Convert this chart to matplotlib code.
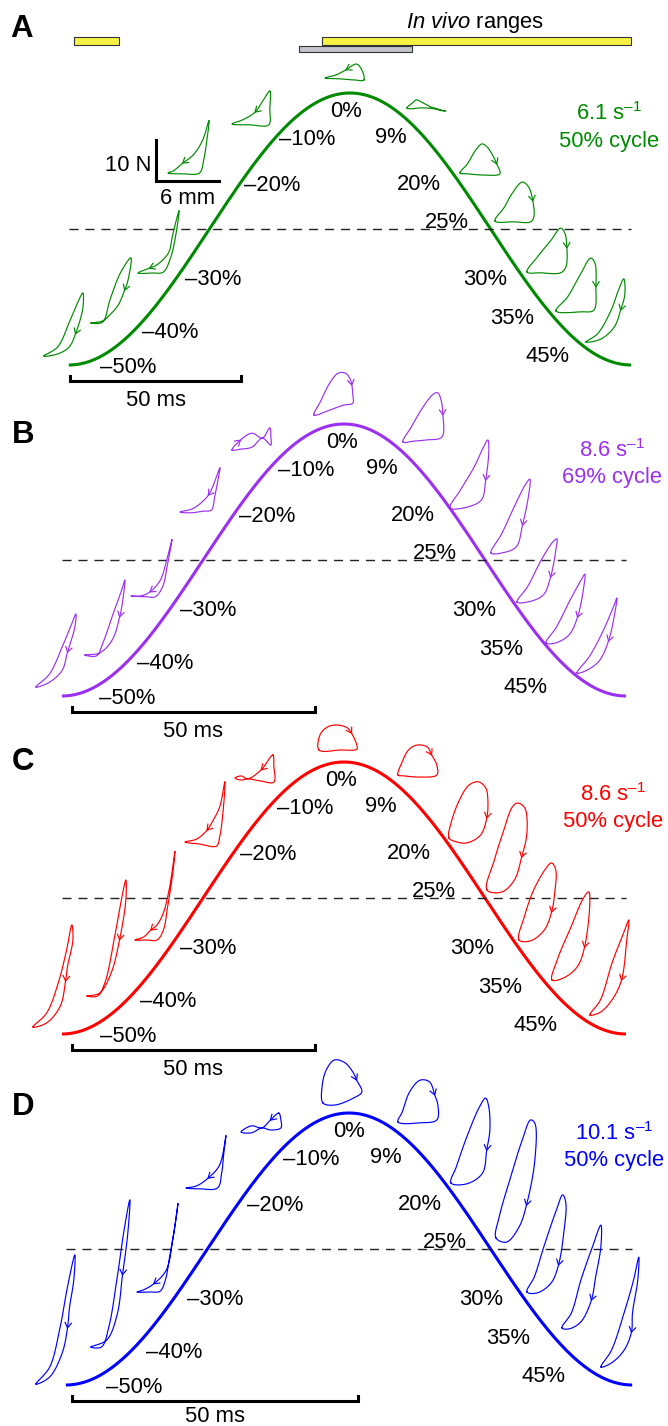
import numpy as np
import matplotlib
matplotlib.use("Agg")
import matplotlib.pyplot as plt
import matplotlib.transforms as mtransforms
from matplotlib.patches import Rectangle

plt.rcParams['font.family'] = ['Liberation Sans', 'DejaVu Sans']
plt.rcParams['mathtext.fontset'] = 'custom'
plt.rcParams['mathtext.rm'] = 'Liberation Sans'
plt.rcParams['mathtext.it'] = 'Liberation Sans:italic'

# ---------------- data ----------------
panel_letters = ['A', 'B', 'C', 'D']
freq_hz = [6.1, 8.6, 8.6, 10.1]
duty_pct = [50, 69, 50, 50]
panel_colors = ['#008a00', '#9b30f0', '#ff0000', '#0000ff']
phase_pct = [-50, -40, -30, -20, -10, 0, 9, 20, 25, 30, 35, 45]

# in vivo phase ranges, fraction of cycle (0 = peak length)
in_vivo_yellow = [(-0.49, -0.41), (-0.05, 0.50)]
in_vivo_gray = [(-0.09, 0.11)]

# work loops, (length mm, force N) relative to the loop start, and arrow vertex
loops_A = [
    ([(0, 0), (1.3, 2.2), (2.5, 8.8), (3.4, 14.1), (3.7, 15.4), (3.7, 11.7), (3.0, 5.4), (2.4, 2.2), (1.3, 0.5)], 6),
    ([(0, 0), (1.1, 0.2), (1.8, 5.6), (2.8, 12.2), (3.8, 15.9), (3.5, 10.2), (3.2, 8.0), (2.6, 4.4), (1.8, 2.0), (1.1, 0.5)], 6),
    ([(3.9, 15.1), (3.3, 9.3), (2.9, 4.9), (1.8, 2.0), (1.1, 1.2), (0, 0), (1.4, 0), (2.4, 0.2), (3.1, 3.7), (3.6, 9.3)], 4),
    ([(3.9, 12.7), (3.3, 8.0), (2.4, 4.4), (1.4, 2.4), (0.5, 0.5), (0, 0), (1.4, -0.2), (3.0, 0), (3.4, 3.2), (3.7, 8.0)], 3),
    ([(3.6, 8.0), (3.0, 5.9), (2.2, 2.9), (1.0, 1.0), (0, 0), (1.7, -0.2), (3.5, -0.2), (3.6, 3.7)], 2),
    ([(3.7, -0.5), (3.5, 2.0), (3.0, 3.4), (2.0, 2.0), (1.0, 0.7), (0, 0), (1.4, -0.2), (2.9, -0.5)], 3),
    ([(0, 0), (0.5, 1.2), (0.9, 2.0), (1.2, 1.7), (1.7, 1.0), (2.3, 0.2), (2.9, -0.2), (3.4, -0.7), (3.7, -0.7),
      (3.1, -0.5), (2.6, -0.2), (1.9, 0), (1.1, 0), (0.5, -0.2)], None),
    ([(0, 0), (0.7, 2.2), (1.5, 5.6), (2.1, 7.1), (2.6, 6.3), (3.2, 3.9), (3.5, 2.2), (3.8, -0.2), (2.3, -0.5), (0.7, -0.2)], 6),
    ([(0, 0), (0.9, 3.4), (1.6, 6.6), (2.6, 9.5), (3.2, 8.3), (3.6, 4.9), (3.7, 1.0), (3.4, -0.2), (1.8, -0.2)], 5),
    ([(0, 0), (1.0, 3.7), (2.3, 7.8), (3.2, 10.7), (3.6, 9.5), (3.8, 5.9), (3.7, 1.2), (3.2, -0.2), (1.3, -0.2)], 5),
    ([(0, 0), (1.1, 3.4), (2.4, 9.3), (3.3, 12.9), (3.7, 11.7), (3.8, 5.9), (3.6, 0.2), (2.4, -0.2)], 5),
    ([(0, 0), (1.1, 2.0), (2.4, 7.8), (3.1, 12.7), (3.6, 15.4), (3.7, 11.7), (3.3, 7.8), (2.7, 3.7), (1.4, 0.7)], 6),
]
loops_B = [
    ([(0, 0), (1.3, 3.2), (2.5, 9.8), (3.4, 15.4), (3.8, 17.8), (3.7, 14.6), (3.0, 8.5), (2.5, 4.1), (1.3, 1.2)], 6),
    ([(0, 0), (1.1, -0.2), (1.7, 2.9), (2.7, 10.2), (3.5, 15.9), (3.8, 18.3), (3.6, 13.4), (3.3, 9.3), (2.6, 3.7), (1.4, 0.5)], 7),
    ([(3.9, 13.7), (3.4, 8.8), (2.8, 3.9), (1.8, 1.0), (0.9, 0), (0, 0), (1.5, -0.2), (2.3, -0.2), (3.0, 2.2), (3.5, 8.0)], 3),
    ([(3.8, 10.7), (3.1, 6.1), (2.7, 4.1), (1.9, 2.0), (1.1, 0.7), (0, 0), (1.0, -0.2), (2.2, 0.2), (3.0, 0.5), (3.3, 3.7), (3.6, 7.6)], 2),
    ([(0, 0), (0.8, 2.4), (1.9, 4.1), (2.9, 2.9), (3.6, 5.4), (3.7, 3.2), (3.7, 1.2), (2.9, 2.9), (1.9, 0.7), (0.8, 0.2)], 1),
    ([(0, 0), (0.6, 3.2), (1.5, 7.8), (2.3, 10.2), (3.0, 10.2), (3.4, 9.0), (3.6, 7.3), (3.7, 4.9), (3.7, 2.9), (2.8, 2.4), (1.5, 1.2)], 6),
    ([(0, 0), (0.8, 3.7), (1.9, 8.5), (2.9, 11.7), (3.3, 12.0), (3.6, 10.5), (3.8, 6.6), (3.7, 1.2), (2.2, 0.5), (1.0, 0.2)], 6),
    ([(0, 0), (1.0, 4.4), (2.3, 10.0), (3.2, 14.9), (3.6, 16.6), (3.7, 14.1), (3.4, 6.8), (3.0, 2.0), (1.6, 0.2)], 6),
    ([(0, 0), (1.0, 4.6), (2.2, 11.2), (3.3, 16.8), (3.7, 18.0), (3.6, 14.4), (3.0, 6.8), (2.4, 1.5), (1.0, 0)], 6),
    ([(0, 0), (1.0, 3.7), (2.3, 10.2), (3.4, 14.6), (3.8, 15.4), (3.7, 12.7), (3.2, 6.1), (2.5, 1.7), (1.0, 0)], 6),
    ([(0, 0), (1.0, 3.9), (2.3, 10.5), (3.4, 15.6), (3.7, 16.8), (3.6, 13.7), (3.0, 6.3), (2.2, 2.0), (0.9, 0)], 6),
    ([(0, 0), (1.2, 4.1), (2.4, 9.8), (3.5, 16.3), (3.8, 18.3), (3.6, 14.6), (3.0, 7.8), (2.1, 2.9), (0.8, 0.5)], 6),
]
loops_C = [
    ([(0, 0), (1.3, 3.4), (2.4, 10.7), (3.2, 18.8), (3.7, 24.9), (3.8, 21.2), (3.3, 14.9), (3.1, 11.2), (2.6, 5.1), (1.3, 1.0)], 7),
    ([(0, 0), (1.0, 0), (1.7, 3.2), (2.7, 15.4), (3.4, 25.1), (3.7, 28.3), (3.7, 23.4), (3.1, 13.7), (2.3, 5.6), (1.2, 0.7)], 7),
    ([(3.8, 21.5), (3.3, 12.9), (2.7, 6.6), (2.1, 3.7), (1.5, 2.4), (0.8, 0.7), (0, 0), (1.1, 0), (2.1, 0), (2.7, 2.4), (3.1, 8.0), (3.6, 16.3)], 4),
    ([(3.8, 14.6), (3.3, 8.5), (2.7, 5.4), (2.1, 2.9), (1.1, 0.7), (0, 0), (1.4, -0.5), (3.0, -1.0), (3.3, 1.2), (3.6, 6.8)], 3),
    ([(3.6, 5.6), (2.5, 2.0), (1.2, -0.2), (0.6, 0.5), (0, 0), (0.6, -0.5), (1.2, -0.2), (2.4, -0.7), (3.7, -1.0), (3.7, 2.9)], 1),
    ([(0, 0), (0.1, 3.7), (0.8, 5.6), (1.7, 6.1), (2.7, 5.4), (3.1, 4.1), (3.6, 1.2), (3.6, 0.2), (2.0, 0)], 5),
    ([(0, 0), (0.4, 3.2), (1.0, 6.1), (1.8, 7.3), (2.8, 6.8), (3.2, 4.9), (3.7, 2.4), (3.7, 0), (2.1, -0.5), (0.5, -0.2)], 5),
    ([(0, 0), (0.2, 3.7), (1.0, 9.3), (1.9, 12.9), (2.8, 13.7), (3.5, 12.2), (3.7, 9.3), (3.6, 4.9), (3.0, 0.7), (1.7, -1.2), (0.8, -1.0)], 7),
    ([(0, 0), (0.7, 7.3), (1.6, 14.6), (2.4, 20.2), (2.9, 21.2), (3.6, 20.0), (3.8, 13.9), (3.3, 8.0), (2.6, 2.4), (1.4, -0.5)], 7),
    ([(0, 0), (0.5, 5.6), (1.4, 12.2), (2.6, 17.6), (3.1, 18.8), (3.5, 17.1), (3.4, 11.5), (3.1, 6.8), (2.4, 2.4), (1.1, -0.2)], 7),
    ([(0, 0), (0.5, 4.9), (1.8, 12.9), (3.0, 20.0), (3.5, 21.5), (3.6, 18.8), (3.1, 8.0), (2.4, 3.2), (1.1, 0.5)], 6),
    ([(0, 0), (1.0, 3.7), (2.1, 12.7), (3.2, 20.0), (3.7, 23.2), (3.5, 18.3), (3.0, 8.5), (2.1, 3.7), (1.0, 0.7)], 6),
]
loops_D = [
    ([(0, 0), (1.3, 4.1), (2.3, 13.9), (3.0, 23.7), (3.7, 31.5), (3.6, 25.4), (3.2, 18.8), (3.0, 13.7), (2.5, 7.6), (1.3, 1.7)], 7),
    ([(0, 0), (1.0, 0), (1.7, 4.9), (2.5, 17.1), (3.2, 29.3), (3.7, 35.9), (3.5, 27.6), (3.0, 17.6), (2.5, 8.0), (1.5, 1.7)], 7),
    ([(3.9, 21.5), (3.4, 12.7), (2.8, 5.4), (1.6, 2.0), (0.6, 0.5), (0, 0), (1.2, 0), (2.2, 0.2), (2.7, 2.9), (3.1, 8.5), (3.6, 15.9)], 3),
    ([(3.8, 12.7), (3.2, 5.6), (2.1, 2.4), (1.0, 0.5), (0, 0), (1.3, -0.2), (3.0, 0), (3.4, 3.7), (3.6, 8.5)], 2),
    ([(3.6, 4.6), (2.8, 2.9), (2.0, 1.0), (1.0, 1.5), (0, 0), (1.0, -0.2), (2.0, 1.0), (2.8, 0.5), (3.8, 1.0), (3.8, 2.9)], 1),
    ([(0, 0), (-0.1, 3.7), (0.3, 8.0), (1.1, 10.5), (2.1, 9.8), (2.9, 7.3), (3.2, 5.6), (3.7, 2.7), (2.9, 1.2), (1.1, -0.5)], 6),
    ([(0, 0), (0.4, 2.4), (1.1, 7.3), (2.1, 10.2), (3.0, 9.8), (3.5, 6.6), (3.8, 4.1), (3.7, 0.5), (2.1, -0.2)], 5),
    ([(0, 0), (0.5, 3.9), (1.5, 11.2), (2.7, 18.5), (3.3, 20.7), (3.6, 18.5), (3.7, 12.9), (3.4, 8.0), (3.0, 2.4), (1.5, -0.2)], 7),
    ([(0, 0), (0.3, 5.1), (1.4, 14.9), (2.5, 23.9), (3.3, 28.8), (3.7, 28.0), (3.7, 19.0), (2.9, 8.0), (2.2, 2.7), (1.0, -1.0)], 7),
    ([(0, 0), (0.7, 3.7), (1.6, 11.0), (2.8, 20.0), (3.4, 23.7), (3.7, 21.7), (3.5, 14.4), (3.0, 6.6), (2.3, 2.2), (1.0, -0.2)], 7),
    ([(0, 0), (0.9, 3.7), (1.8, 11.7), (2.9, 19.8), (3.7, 25.1), (3.7, 19.8), (3.2, 12.4), (2.8, 6.8), (1.8, 1.5), (0.7, -0.2)], 7),
    ([(0, 0), (1.0, 4.1), (2.2, 13.2), (3.1, 21.2), (3.6, 26.8), (3.5, 21.2), (3.0, 13.2), (2.9, 8.5), (2.2, 4.1), (1.0, 1.0)], 7),
]
all_loops = [loops_A, loops_B, loops_C, loops_D]

# ---------------- layout (pixels, origin top-left) ----------------
W, H, DPI = 668, 1426, 100
PX_PER_MM, PX_PER_N = 10.5, 4.1
AMP_PX = 136
peak_x = [350, 344, 344, 349]
mid_y = [229, 560, 898, 1249]
px_per_ms = [3.43, 4.85, 4.85, 5.72]
bar_lead_ms = [0.3, 2.1, 2.1, 1.0]
bar_label_gap = [25, 25, 25, 21]

loop_anchor = [
    [(44, 356), (91, 323), (138, 273), (168, 173), (232, 124), (325, 78), (407, 108),
     (460, 173), (495, 221), (527, 272), (556, 311), (586, 342)],
    [(36, 687), (85, 655), (131, 596), (180, 512), (232, 450), (314, 415), (403, 442),
     (450, 508), (491, 553), (517, 602), (546, 643), (577, 673)],
    [(33, 1027), (87, 996), (135, 940), (185, 842), (235, 778), (319, 750), (398, 775),
     (449, 838), (487, 890), (519, 940), (552, 980), (590, 1015)],
    [(36, 1384), (91, 1347), (137, 1292), (186, 1188), (241, 1132), (323, 1103), (398, 1122),
     (451, 1183), (496, 1238), (527, 1292), (562, 1328), (601, 1367)],
]
label_x = [
    [128, 170, 213, 272, 307, 346, 391, 419, 447, 485, 512, 548],
    [127, 165, 208, 267, 306, 342, 382, 413, 435, 474, 501, 525],
    [128, 168, 208, 268, 305, 341, 381, 409, 434, 472, 500, 535],
    [134, 174, 215, 275, 311, 349, 386, 420, 445, 481, 508, 544],
]
label_dy = [136, 101, 48, -46, -92, -120, -94, -47, -9, 48, 87, 125]
letter_pos = [(10, 37), (12, 443), (12, 770), (12, 1115)]
freq_pos = [(609, 120, 147), (612, 457, 483), (613, 801, 827), (614, 1140, 1166)]

FS = 15.8


def smooth_closed(P, n=10):
    # centripetal Catmull-Rom through the loop vertices
    P = np.asarray(P, float)
    Q = np.vstack([P[-1:], P, P[:2]])
    segs = []
    for i in range(len(P)):
        p0, p1, p2, p3 = Q[i], Q[i + 1], Q[i + 2], Q[i + 3]
        t0 = 0.0
        t1 = t0 + np.hypot(*(p1 - p0)) ** 0.5 + 1e-6
        t2 = t1 + np.hypot(*(p2 - p1)) ** 0.5 + 1e-6
        t3 = t2 + np.hypot(*(p3 - p2)) ** 0.5 + 1e-6
        t = np.linspace(t1, t2, n, endpoint=False)[:, None]
        a1 = (t1 - t) / (t1 - t0) * p0 + (t - t0) / (t1 - t0) * p1
        a2 = (t2 - t) / (t2 - t1) * p1 + (t - t1) / (t2 - t1) * p2
        a3 = (t3 - t) / (t3 - t2) * p2 + (t - t2) / (t3 - t2) * p3
        b1 = (t2 - t) / (t2 - t0) * a1 + (t - t0) / (t2 - t0) * a2
        b2 = (t3 - t) / (t3 - t1) * a2 + (t - t1) / (t3 - t1) * a3
        segs.append((t2 - t) / (t2 - t1) * b1 + (t - t1) / (t2 - t1) * b2)
    segs.append(P[:1])
    return np.vstack(segs)


fig = plt.figure(figsize=(W / DPI, H / DPI), dpi=DPI)

panel_axes = []
for i in range(4):
    T = 1000.0 / freq_hz[i]
    hw = T / 2 * px_per_ms[i]
    rect = [(peak_x[i] - hw) / W, (H - mid_y[i] - AMP_PX) / H, 2 * hw / W, 2 * AMP_PX / H]
    ax = fig.add_axes(rect)
    ax.set_xlim(-T / 2, T / 2)
    ax.set_ylim(-1, 1)
    ax.axis('off')
    panel_axes.append(ax)

overlay = fig.add_axes([0, 0, 1, 1])
overlay.set_xlim(0, W)
overlay.set_ylim(H, 0)
overlay.axis('off')


def draw_loop(pts, anchor, color, arrow_idx):
    tr = mtransforms.Affine2D().scale(PX_PER_MM, -PX_PER_N).translate(*anchor)
    S = smooth_closed(tr.transform(np.asarray(pts, float)), 10)
    overlay.plot(S[:, 0], S[:, 1], color=color, lw=0.85, solid_joinstyle='round')
    if arrow_idx is None:
        return
    k = arrow_idx * 10
    d = S[k + 1] - S[k - 1]
    d = d / np.hypot(*d)
    tip = S[k]
    arms = []
    for s in (1, -1):
        th = np.deg2rad(32 * s)
        v = -d
        arms.append(tip + 6 * np.array([v[0] * np.cos(th) - v[1] * np.sin(th),
                                        v[0] * np.sin(th) + v[1] * np.cos(th)]))
    ch = np.array([arms[0], tip, arms[1]])
    overlay.plot(ch[:, 0], ch[:, 1], color=color, lw=0.85)


for i, ax in enumerate(panel_axes):
    T = 1000.0 / freq_hz[i]
    col = panel_colors[i]
    t = np.linspace(-T / 2, T / 2, 600)
    ax.plot(t, np.cos(2 * np.pi * t / T), color=col, lw=2.2, clip_on=False,
            solid_capstyle='butt')
    ax.plot([-T / 2, T / 2], [0, 0], color='#222222', lw=1.0,
            linestyle=(0, (6.5, 5)), clip_on=False)

    # 50 ms time bar below the trough
    bt = mtransforms.blended_transform_factory(ax.transData, overlay.transData)
    x0 = -T / 2 + bar_lead_ms[i]
    yb = mid_y[i] + AMP_PX + 16
    ax.plot([x0, x0, x0 + 50, x0 + 50], [yb - 5, yb, yb, yb - 5], color='black',
            lw=2.2, transform=bt, clip_on=False, solid_joinstyle='miter')
    ax.text(x0 + 25, yb + bar_label_gap[i], '50 ms', transform=bt, ha='center',
            va='baseline', fontsize=FS)

    # phase labels
    for p, lx, dy in zip(phase_pct, label_x[i], label_dy):
        s = ('\u2013%d%%' % -p) if p < 0 else ('%d%%' % p)
        overlay.text(lx, mid_y[i] + dy + 8, s, ha='center', va='baseline', fontsize=FS)

    # work loops
    for (pts, arr), anc in zip(all_loops[i], loop_anchor[i]):
        draw_loop(pts, anc, col, arr)

    # panel letter and stimulus label
    overlay.text(letter_pos[i][0], letter_pos[i][1], panel_letters[i], fontsize=22.5,
                 fontweight='bold', ha='left', va='baseline')
    fx, fy1, fy2 = freq_pos[i]
    overlay.text(fx, fy1, '%s s$^{\\mathregular{\u20131}}$' % freq_hz[i], color=col,
                 ha='center', va='baseline', fontsize=FS)
    overlay.text(fx, fy2, '%d%% cycle' % duty_pct[i], color=col,
                 ha='center', va='baseline', fontsize=FS)

# in vivo ranges above panel A
axA = panel_axes[0]
TA = 1000.0 / freq_hz[0]
bt = mtransforms.blended_transform_factory(axA.transData, overlay.transData)
for a, b in in_vivo_yellow:
    axA.add_patch(Rectangle((a * TA, 37), (b - a) * TA, 7.5, transform=bt,
                            facecolor='#f7f244', edgecolor='#333333', lw=0.8,
                            clip_on=False, zorder=3))
for a, b in in_vivo_gray:
    axA.add_patch(Rectangle((a * TA, 45.5), (b - a) * TA, 6.5, transform=bt,
                            facecolor='#c4c4cc', edgecolor='#333333', lw=0.8,
                            clip_on=False, zorder=2))
overlay.text(475, 28, r'$\mathit{In\ vivo}$ ranges', ha='center', va='baseline', fontsize=FS)

# force / length scale bar
sb = mtransforms.Affine2D().scale(PX_PER_MM, -PX_PER_N).translate(156, 181)
sbp = sb.transform(np.array([(0, 10), (0, 0), (6, 0)], float))
overlay.plot(sbp[:, 0], sbp[:, 1], color='black', lw=2.2, solid_joinstyle='miter')
overlay.text(sbp[0, 0] - 5, 171, '10 N', ha='right', va='baseline', fontsize=FS)
overlay.text((sbp[1, 0] + sbp[2, 0]) / 2, 204, '6 mm', ha='center', va='baseline', fontsize=FS)

fig.savefig('out.png', dpi=DPI)
